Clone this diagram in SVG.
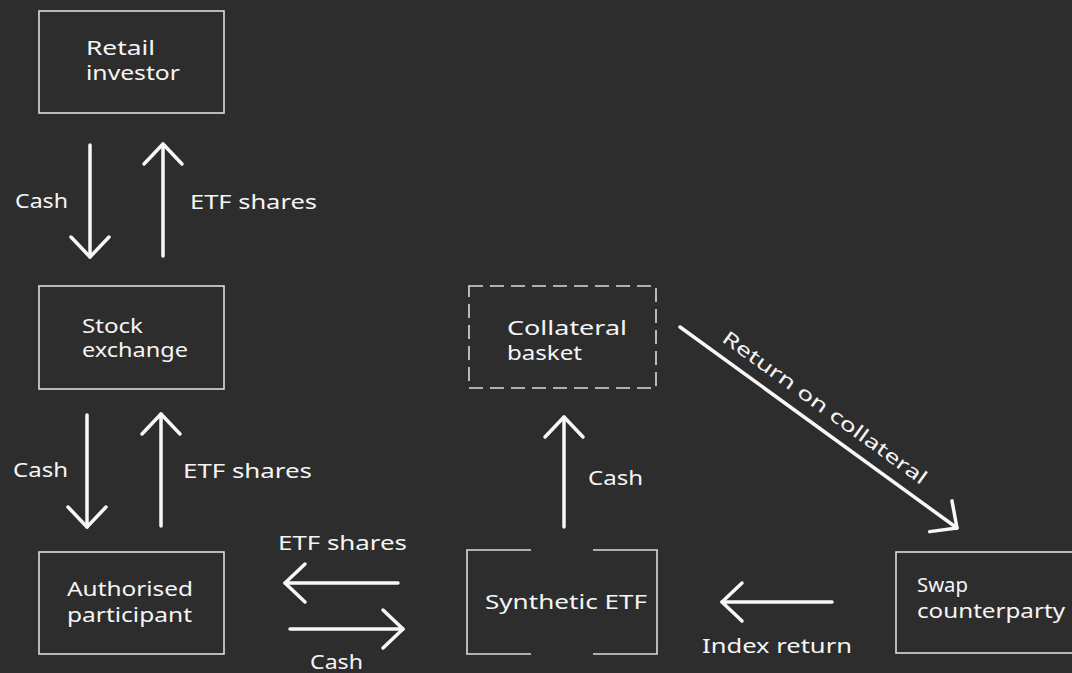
<svg xmlns="http://www.w3.org/2000/svg" width="1072" height="673" viewBox="0 0 1072 673">
<defs>
<style>
.box{fill:none;stroke:#dcdcdc;stroke-width:1.6}
.dash{stroke-dasharray:14 7}
.t{font-family:"Noto Sans","DejaVu Sans",sans-serif;font-size:19px;fill:#f5f5f5}
.a{fill:none;stroke:#f7f7f7;stroke-width:3.5;stroke-linecap:round;stroke-linejoin:round}
</style>
<marker id="head" markerUnits="userSpaceOnUse" viewBox="-25 -25 50 50" markerWidth="50" markerHeight="50" refX="0" refY="0" orient="auto">
<path d="M-20,-19 L0,0 L-20,19" fill="none" stroke="#f7f7f7" stroke-width="3.5" stroke-linecap="round" stroke-linejoin="round"/>
</marker>
</defs>
<rect width="1072" height="673" fill="#2d2d2d"/>

<g id="retail-investor">
<rect class="box" x="39" y="11" width="185" height="102"/>
<text class="t" x="86" y="55" textLength="69" lengthAdjust="spacingAndGlyphs">Retail</text>
<text class="t" x="86" y="80" textLength="94" lengthAdjust="spacingAndGlyphs">investor</text>
</g>

<g id="stock-exchange">
<rect class="box" x="39" y="286" width="185" height="103"/>
<text class="t" x="82" y="333" textLength="61" lengthAdjust="spacingAndGlyphs">Stock</text>
<text class="t" x="82" y="357" textLength="106" lengthAdjust="spacingAndGlyphs">exchange</text>
</g>

<g id="authorised-participant">
<rect class="box" x="39" y="552" width="185" height="102"/>
<text class="t" x="67" y="596" textLength="126" lengthAdjust="spacingAndGlyphs">Authorised</text>
<text class="t" x="67" y="622" textLength="125" lengthAdjust="spacingAndGlyphs">participant</text>
</g>

<g id="collateral-basket">
<rect class="box dash" x="469" y="286" width="187" height="102"/>
<text class="t" x="507" y="335" textLength="120" lengthAdjust="spacingAndGlyphs">Collateral</text>
<text class="t" x="507" y="360" textLength="75" lengthAdjust="spacingAndGlyphs">basket</text>
</g>

<g id="synthetic-etf">
<path class="box" d="M531,550 H467 V654 H531 M593,654 H657 V550 H593"/>
<text class="t" x="485" y="609" textLength="162" lengthAdjust="spacingAndGlyphs">Synthetic ETF</text>
</g>

<g id="swap-counterparty">
<rect class="box" x="896" y="552" width="190" height="101"/>
<text class="t" x="917" y="592" textLength="51" lengthAdjust="spacingAndGlyphs">Swap</text>
<text class="t" x="917" y="618" textLength="148" lengthAdjust="spacingAndGlyphs">counterparty</text>
</g>

<g id="connectors">
<line class="a" x1="90" y1="145" x2="90" y2="257" marker-end="url(#head)"/>
<line class="a" x1="163" y1="256" x2="163" y2="144" marker-end="url(#head)"/>
<line class="a" x1="87" y1="415" x2="87" y2="527" marker-end="url(#head)"/>
<line class="a" x1="161" y1="526" x2="161" y2="414" marker-end="url(#head)"/>
<line class="a" x1="398" y1="583" x2="285" y2="583" marker-end="url(#head)"/>
<line class="a" x1="290" y1="629" x2="403" y2="629" marker-end="url(#head)"/>
<line class="a" x1="564" y1="527" x2="564" y2="417" marker-end="url(#head)"/>
<line class="a" x1="832" y1="602" x2="722" y2="602" marker-end="url(#head)"/>
<line class="a" x1="680" y1="327" x2="957" y2="528" marker-end="url(#head)"/>

<text class="t" x="15" y="208" textLength="53" lengthAdjust="spacingAndGlyphs">Cash</text>
<text class="t" x="190" y="209" textLength="127" lengthAdjust="spacingAndGlyphs">ETF shares</text>
<text class="t" x="13" y="477" textLength="55" lengthAdjust="spacingAndGlyphs">Cash</text>
<text class="t" x="183" y="478" textLength="129" lengthAdjust="spacingAndGlyphs">ETF shares</text>
<text class="t" x="278" y="550" textLength="129" lengthAdjust="spacingAndGlyphs">ETF shares</text>
<text class="t" x="310" y="669" textLength="53" lengthAdjust="spacingAndGlyphs">Cash</text>
<text class="t" x="588" y="485" textLength="55" lengthAdjust="spacingAndGlyphs">Cash</text>
<text class="t" x="702" y="653" textLength="150" lengthAdjust="spacingAndGlyphs">Index return</text>
<text class="t" text-anchor="middle" transform="translate(821,413) rotate(35.8)" textLength="247" lengthAdjust="spacingAndGlyphs">Return on collateral</text>
</g>
</svg>
